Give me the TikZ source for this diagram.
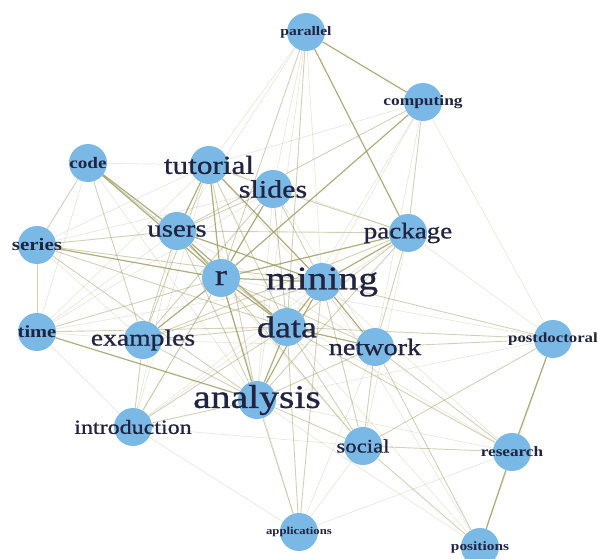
\documentclass[tikz,border=0pt]{standalone}
\usepackage{fontspec}
\setmainfont[FakeStretch=1.2, UprightFeatures={FakeBold=0.8}]{Liberation Serif}
\usetikzlibrary{backgrounds}
\definecolor{termblue}{RGB}{122,184,230}
\definecolor{wordink}{RGB}{32,36,64}
\definecolor{tieolive}{RGB}{155,152,92}
\newcommand{\wsize}[1]{\fontsize{#1}{#1}\selectfont}

\begin{document}
\begin{tikzpicture} [
    x=1pt, y=-1pt,
    term/.style={circle, fill=termblue, minimum size=38pt, inner sep=0pt},
    word/.style={text=wordink, inner sep=0pt},
    every edge/.style={draw=tieolive},
    heavy edge/.style={line width=1.2pt, draw opacity=0.8},
    mid edge/.style={line width=0.9pt, draw opacity=0.45},
    faint edge/.style={line width=0.7pt, draw opacity=0.22}
  ]
  \useasboundingbox (0,0) rectangle (598,559);

  % Nodes and Positions
  % TOP
  \node[term, label={[word, font=\bfseries\wsize{13}]center:parallel}] (parallel) at (306,32) {};
  \node[term, label={[word, font=\bfseries\wsize{14.5}]center:computing}] (computing) at (423,102) {};

  % UPPER ROW
  \node[term, label={[word, font=\bfseries\wsize{16}]center:code}] (code) at (88,163) {};
  \node[term, label={[word, font=\wsize{26}]center:tutorial}] (tutorial) at (209,165) {};
  \node[term, label={[word, font=\wsize{25}]center:slides}] (slides) at (273,189) {};
  \node[term, label={[word, font=\bfseries\wsize{17.5}]center:series}] (series) at (37,245) {};
  \node[term, label={[word, font=\wsize{24}]center:users}] (users) at (177,231) {};
  \node[term, label={[word, font=\wsize{22.5}]center:package}] (package) at (408,233) {};

  % MIDDLE
  \node[term, label={[word, font=\wsize{30}]center:r}] (r) at (221,278) {};
  \node[term, label={[word, font=\wsize{33}]center:mining}] (mining) at (322,282) {};
  \node[term, label={[word, font=\bfseries\wsize{17}]center:time}] (time) at (37,332) {};
  \node[term, label={[word, font=\wsize{23}]center:examples}] (examples) at (143,340) {};
  \node[term, label={[word, font=\wsize{30}]center:data}] (data) at (287,327) {};
  \node[term, label={[word, font=\wsize{23.5}]center:network}] (network) at (375,347) {};
  \node[term, label={[word, font=\bfseries\wsize{14}]center:postdoctoral}] (postdoctoral) at (553,339) {};

  % LOWER ROW
  \node[term, label={[word, font=\wsize{33}]center:analysis}] (analysis) at (257,400) {};
  \node[term, label={[word, font=\wsize{20}]center:introduction}] (introduction) at (133,427) {};
  \node[term, label={[word, font=\wsize{19}]center:social}] (social) at (363,446) {};
  \node[term, label={[word, font=\bfseries\wsize{14.3}]center:research}] (research) at (512,452) {};

  % BOTTOM
  \node[term, label={[word, font=\bfseries\wsize{10.6}]center:applications}] (applications) at (299,532) {};
  \node[term, label={[word, font=\bfseries\wsize{12.8}]center:positions}] (positions) at (480,547) {};

  % Edges
  \begin{scope}[on background layer]
  \path (parallel) edge[heavy edge] (computing);
  \path (parallel) edge[heavy edge] (package);
  \path (parallel) edge[mid edge] (r);
  \path (parallel) edge[mid edge] (data);
  \path (parallel) edge[faint edge] (mining);
  \path (parallel) edge[faint edge] (tutorial);
  \path (parallel) edge[faint edge] (users);
  \path (parallel) edge[faint edge] (slides);
  \path (parallel) edge[faint edge] (analysis);

  \path (computing) edge[heavy edge] (r);
  \path (computing) edge[mid edge] (package);
  \path (computing) edge[mid edge] (users);
  \path (computing) edge[faint edge] (tutorial);
  \path (computing) edge[faint edge] (mining);
  \path (computing) edge[faint edge] (data);
  \path (computing) edge[faint edge] (network);
  \path (computing) edge[faint edge] (postdoctoral);

  \path (code) edge[mid edge] (series);
  \path (code) edge[faint edge] (time);
  \path (code) edge[heavy edge] (users);
  \path (code) edge[heavy edge] (r);
  \path (code) edge[mid edge] (examples);
  \path (code) edge[faint edge] (tutorial);
  \path (code) edge[mid edge] (data);
  \path (code) edge[faint edge] (analysis);

  \path (series) edge[mid edge] (time);
  \path (series) edge[mid edge] (users);
  \path (series) edge[heavy edge] (r);
  \path (series) edge[mid edge] (mining);
  \path (series) edge[mid edge] (data);
  \path (series) edge[faint edge] (slides);
  \path (series) edge[faint edge] (examples);
  \path (series) edge[mid edge] (analysis);
  \path (series) edge[faint edge] (tutorial);

  \path (time) edge[mid edge] (r);
  \path (time) edge[faint edge] (users);
  \path (time) edge[mid edge] (data);
  \path (time) edge[heavy edge] (analysis);
  \path (time) edge[faint edge] (mining);
  \path (time) edge[faint edge] (examples);
  \path (time) edge[faint edge] (slides);
  \path (time) edge[faint edge] (introduction);
  \path (time) edge[faint edge] (tutorial);

  \path (users) edge[heavy edge] (tutorial);
  \path (users) edge[mid edge] (slides);
  \path (users) edge[heavy edge] (r);
  \path (users) edge[heavy edge] (mining);
  \path (users) edge[heavy edge] (data);
  \path (users) edge[mid edge] (analysis);
  \path (users) edge[mid edge] (examples);
  \path (users) edge[mid edge] (package);
  \path (users) edge[faint edge] (network);
  \path (users) edge[faint edge] (introduction);
  \path (users) edge[faint edge] (social);

  \path (tutorial) edge[mid edge] (slides);
  \path (tutorial) edge[heavy edge] (r);
  \path (tutorial) edge[heavy edge] (mining);
  \path (tutorial) edge[mid edge] (data);
  \path (tutorial) edge[mid edge] (examples);
  \path (tutorial) edge[mid edge] (analysis);
  \path (tutorial) edge[faint edge] (package);
  \path (tutorial) edge[faint edge] (introduction);
  \path (tutorial) edge[faint edge] (network);

  \path (slides) edge[heavy edge] (r);
  \path (slides) edge[mid edge] (mining);
  \path (slides) edge[mid edge] (data);
  \path (slides) edge[mid edge] (package);
  \path (slides) edge[mid edge] (examples);
  \path (slides) edge[faint edge] (analysis);
  \path (slides) edge[faint edge] (network);
  \path (slides) edge[faint edge] (introduction);

  \path (r) edge[heavy edge] (mining);
  \path (r) edge[heavy edge] (data);
  \path (r) edge[heavy edge] (analysis);
  \path (r) edge[heavy edge] (package);
  \path (r) edge[heavy edge] (examples);
  \path (r) edge[mid edge] (network);
  \path (r) edge[mid edge] (introduction);
  \path (r) edge[mid edge] (social);
  \path (r) edge[faint edge] (applications);
  \path (r) edge[faint edge] (postdoctoral);
  \path (r) edge[faint edge] (research);

  \path (mining) edge[heavy edge] (data);
  \path (mining) edge[heavy edge] (package);
  \path (mining) edge[heavy edge] (network);
  \path (mining) edge[heavy edge] (analysis);
  \path (mining) edge[mid edge] (examples);
  \path (mining) edge[mid edge] (social);
  \path (mining) edge[mid edge] (postdoctoral);
  \path (mining) edge[faint edge] (research);
  \path (mining) edge[mid edge] (applications);
  \path (mining) edge[faint edge] (introduction);
  \path (mining) edge[faint edge] (positions);

  \path (data) edge[heavy edge] (analysis);
  \path (data) edge[heavy edge] (network);
  \path (data) edge[mid edge] (package);
  \path (data) edge[mid edge] (examples);
  \path (data) edge[mid edge] (social);
  \path (data) edge[mid edge] (introduction);
  \path (data) edge[mid edge] (applications);
  \path (data) edge[mid edge] (postdoctoral);
  \path (data) edge[mid edge] (research);
  \path (data) edge[faint edge] (positions);

  \path (package) edge[mid edge] (network);
  \path (package) edge[mid edge] (examples);
  \path (package) edge[mid edge] (analysis);
  \path (package) edge[faint edge] (postdoctoral);
  \path (package) edge[faint edge] (introduction);
  \path (package) edge[faint edge] (social);

  \path (network) edge[mid edge] (social);
  \path (network) edge[mid edge] (analysis);
  \path (network) edge[mid edge] (postdoctoral);
  \path (network) edge[mid edge] (research);
  \path (network) edge[mid edge] (positions);
  \path (network) edge[faint edge] (applications);
  \path (network) edge[faint edge] (examples);

  \path (postdoctoral) edge[heavy edge] (research);
  \path (postdoctoral) edge[mid edge] (social);
  \path (postdoctoral) edge[faint edge] (positions);
  \path (postdoctoral) edge[faint edge] (analysis);

  \path (analysis) edge[mid edge] (introduction);
  \path (analysis) edge[mid edge] (examples);
  \path (analysis) edge[mid edge] (social);
  \path (analysis) edge[mid edge] (applications);
  \path (analysis) edge[faint edge] (positions);
  \path (analysis) edge[faint edge] (research);

  \path (introduction) edge[mid edge] (examples);
  \path (introduction) edge[faint edge] (applications);
  \path (introduction) edge[faint edge] (social);

  \path (social) edge[mid edge] (research);
  \path (social) edge[mid edge] (positions);
  \path (social) edge[faint edge] (applications);

  \path (research) edge[heavy edge] (positions);
  \path (applications) edge[faint edge] (research);
  \end{scope}

\end{tikzpicture}
\end{document}
